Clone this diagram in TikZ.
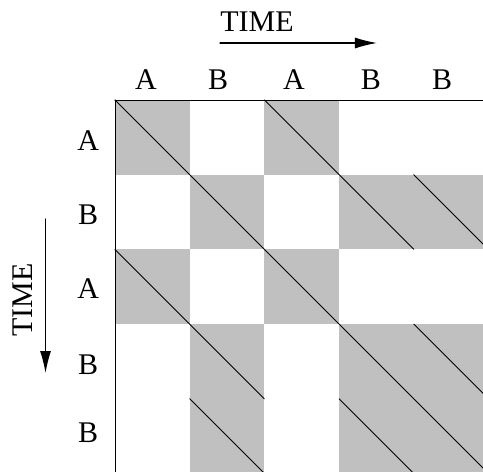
\documentclass[tikz,border=0pt]{standalone}
\usepackage{fontspec}
\setmainfont{Liberation Serif}
\usetikzlibrary{arrows.meta}
\definecolor{cellgray}{RGB}{192,192,192}
\begin{document}
\begin{tikzpicture}[x=74.7pt, y=-74.7pt, font=\fontsize{30}{36}\selectfont, line join=round, line cap=round, >={Latex[length=22pt,width=11pt]},
	match/.style={fill=cellgray},
	trace/.style={line width=0.9pt},
	seqlbl/.style={inner sep=0pt}]
	\useasboundingbox (-1.5395,-1.3387) rectangle (4.9264,4.980);
	\begin{scope}
		\clip (-1.5395,-1.3387) rectangle (4.9264,4.980);
		% cells where the two sequences agree
		\foreach \c/\r in {0/0,2/0,1/1,3/1,4/1,0/2,2/2,1/3,3/3,4/3,1/4,3/4,4/4}
			\fill[match] (\c,\r) rectangle ++(1,1);
		% diagonal runs
		\draw[trace] (0,0)--(5,5);
		\draw[trace] (2,0)--(4,2);
		\draw[trace] (4,1)--(5,2);
		\draw[trace] (0,2)--(2,4);
		\draw[trace] (4,3)--(5,4);
		\draw[trace] (1,4)--(2,5);
		\draw[trace] (3,4)--(5,6);
	\end{scope}
	\draw[line width=0.8pt] (0,0)--(5,0);
	\draw[line width=0.8pt] (0,0)--(0,5);
	% sequence letters
	\foreach \x/\t [count=\i] in {0.415/A,1.379/B,2.396/A,3.427/B,4.378/B}
		\node[seqlbl] (col\i) at (\x,-0.268) {\t};
	\foreach \y/\t [count=\i] in {0.55/A,1.53/B,2.52/A,3.55/B,4.46/B}
		\node[seqlbl] (row\i) at (-0.36,\y) {\t};
	% time axes
	\node[seqlbl] (timetop) at (1.901,-1.044) {TIME};
	\coordinate (htail) at (1.406,-0.763);
	\coordinate (hhead) at (3.507,-0.763);
	\draw[->, line width=1.2pt] (htail)--(hhead);
	\node[seqlbl, rotate=90] (timeleft) at (-1.238,2.677) {TIME};
	\coordinate (vtail) at (-0.930,1.593);
	\coordinate (vhead) at (-0.930,3.655);
	\draw[->, line width=1.2pt] (vtail)--(vhead);
\end{tikzpicture}
\end{document}
